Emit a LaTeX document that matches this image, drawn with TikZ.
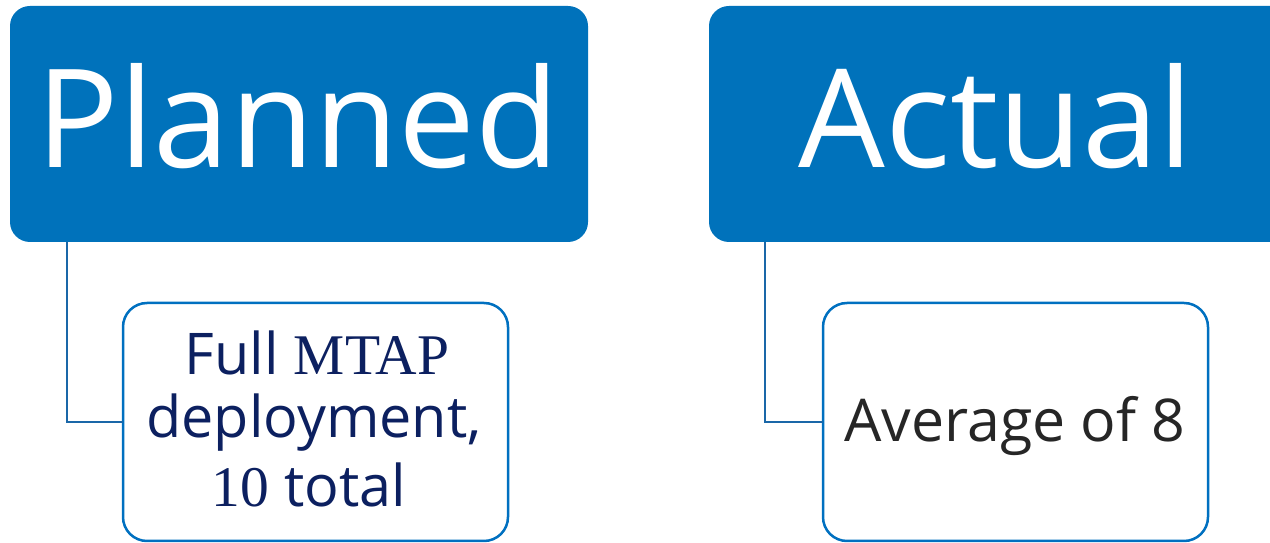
\documentclass[tikz,border=0pt]{standalone}
\usepackage{fontspec}
\setmainfont{Open Sans}
\newfontfamily\serifmt{Liberation Serif}
\definecolor{headblue}{RGB}{0,114,187}
\definecolor{edgeblue}{RGB}{0,112,192}
\definecolor{linkblue}{RGB}{26,103,168}
\definecolor{navytext}{RGB}{12,32,96}
\definecolor{graytext}{RGB}{38,38,38}
\tikzset{
  headbox/.style={draw=none, fill=headblue, rounded corners=20pt, inner sep=0pt, outer sep=0pt},
  childbox/.style={draw=edgeblue, line width=2.5pt, fill=white, rounded corners=24pt, inner sep=0pt, outer sep=0pt},
  link/.style={draw=linkblue, line width=2.2pt},
  headtext/.style={anchor=base, inner sep=0pt, text=white, font=\fontsize{137}{137}\selectfont},
  childtext/.style={anchor=base, inner sep=0pt, font=\fontsize{57.5}{66}\selectfont}
}
\begin{document}
\begin{tikzpicture}[x=1pt,y=1pt]
\useasboundingbox (0,0) rectangle (1270,543);
\clip (0,0) rectangle (1270,543);
% top boxes
\node[headbox, minimum width=578pt, minimum height=236pt] (planned) at (299,419) {};
\node[headbox, minimum width=591pt, minimum height=236pt] (actual) at (1004.5,419) {};
\node[headtext] (plannedlbl) at (298,375) {Planned};
\node[headtext] (actuallbl) at (996,375) {Actual};
% child boxes
\node[childbox, minimum width=385pt, minimum height=238pt] (child1) at (315.5,121) {};
\node[childbox, minimum width=385pt, minimum height=238pt] (child2) at (1015.5,121) {};
% connectors
\draw[link] ([xshift=57pt]planned.south west) |- (child1.west);
\draw[link] ([xshift=56pt]actual.south west) |- (child2.west);
% child texts
\node[childtext, text=navytext] (c1a) at (317,168) {Full {\serifmt MTAP}};
\node[childtext, text=navytext] (c1b) at (314,105) {deployment,};
\node[childtext, text=navytext] (c1c) at (309,36) {{\serifmt 10} total};
\node[childtext, text=graytext, font=\fontsize{59}{66}\selectfont] (c2a) at (1015,101) {Average of 8};
\end{tikzpicture}
\end{document}
